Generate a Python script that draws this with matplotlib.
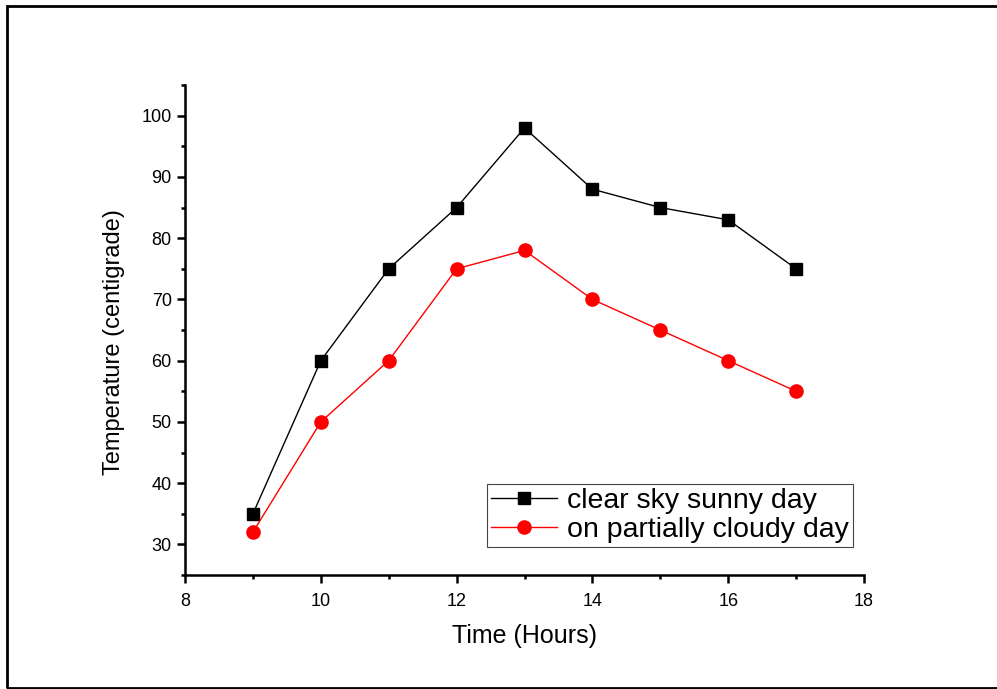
import matplotlib.pyplot as plt
from matplotlib.patches import Rectangle
from matplotlib.ticker import MultipleLocator

plt.rcParams['font.family'] = ['Liberation Sans', 'DejaVu Sans']

hours = [9, 10, 11, 12, 13, 14, 15, 16, 17]
sunny = [35, 60, 75, 85, 98, 88, 85, 83, 75]
cloudy = [32, 50, 60, 75, 78, 70, 65, 60, 55]

fig = plt.figure(figsize=(9.97, 6.89), dpi=100)
ax = fig.add_axes([0.1856, 0.1655, 0.681, 0.711])

# outer frame around the whole picture (open on the right, as in the source)
fig.patches.append(Rectangle((7 / 997, 1 - 688 / 689), 1.0, 682 / 689,
                             transform=fig.transFigure, fill=False,
                             lw=2, ec='black', clip_on=False))

ax.plot(hours, sunny, color='black', lw=1, marker='s', ms=8.5,
        label='clear sky sunny day')
ax.plot(hours, cloudy, color='red', lw=1, marker='o', ms=9.5,
        label='on partially cloudy day')

ax.set_xlim(8, 18)
ax.set_ylim(25, 105)
ax.xaxis.set_major_locator(MultipleLocator(2))
ax.xaxis.set_minor_locator(MultipleLocator(1))
ax.yaxis.set_major_locator(MultipleLocator(10))
ax.yaxis.set_minor_locator(MultipleLocator(5))

ax.spines['top'].set_visible(False)
ax.spines['right'].set_visible(False)
for s in ('left', 'bottom'):
    ax.spines[s].set_linewidth(1.8)
ax.tick_params(which='major', direction='out', length=6, width=1.8, labelsize=13)
ax.tick_params(axis='x', which='major', pad=7)
ax.tick_params(which='minor', direction='out', length=3, width=1.8)

ax.set_xlabel('Time (Hours)', fontsize=18, labelpad=10)
ax.set_ylabel('Temperature (centigrade)', fontsize=17)
ax.yaxis.set_label_coords(-0.089, 0.475)

leg = ax.legend(loc='lower left', bbox_to_anchor=(487 / 997, 1 - 547 / 689),
                bbox_transform=fig.transFigure, fontsize=20.5, frameon=True,
                fancybox=False, edgecolor='#444444', framealpha=1,
                handlelength=2.3, borderpad=0.15, labelspacing=0.08,
                handletextpad=0.35, borderaxespad=0)
leg.get_frame().set_linewidth(0.8)

fig.savefig('out.png', dpi=100)
